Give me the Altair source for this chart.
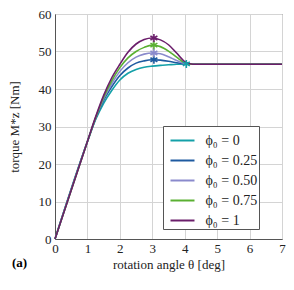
import altair as alt
import pandas as pd

theta = [0, 1, 1.25, 1.5, 1.75, 2, 2.25, 2.5, 2.75, 3, 3.25, 3.5, 3.75, 4, 4.25, 4.5, 7]
m_0   = [0, 26, 31.8, 36.2, 39.6, 42.4, 44.2, 45.2, 45.8, 46.1, 46.3, 46.45, 46.6, 46.7, 46.6, 46.6, 46.6]
m_25  = [0, 26, 32.0, 37.0, 40.6, 43.6, 45.6, 46.9, 47.5, 47.8, 47.7, 47.4, 47.0, 46.7, 46.6, 46.6, 46.6]
m_50  = [0, 26, 32.2, 37.4, 41.4, 44.7, 47.0, 48.5, 49.3, 49.6, 49.4, 48.6, 47.6, 46.8, 46.6, 46.6, 46.6]
m_75  = [0, 26, 32.3, 37.8, 42.2, 45.7, 48.3, 50.0, 51.1, 51.7, 51.3, 50.1, 48.5, 47.0, 46.6, 46.6, 46.6]
m_100 = [0, 26, 32.5, 38.3, 43.0, 46.6, 49.8, 52.0, 53.2, 53.6, 53.1, 51.8, 49.6, 47.3, 46.6, 46.6, 46.6]

labels = ["ϕ₀ = 0", "ϕ₀ = 0.25", "ϕ₀ = 0.50", "ϕ₀ = 0.75", "ϕ₀ = 1"]
colors = ["#14a0a8", "#1e5aa0", "#8a8acc", "#5ab032", "#6b1e6b"]
series = [m_0, m_25, m_50, m_75, m_100]

peak_x = [4.05, 3.05, 3.05, 3.05, 3.05]
peak_y = [46.7, 47.8, 49.6, 51.7, 53.6]

x_ticks = list(range(0, 8))
y_ticks = list(range(0, 61, 10))

rows = []
for i, (lab, vals) in enumerate(zip(labels, series)):
    for t, v in zip(theta, vals):
        rows.append({"theta": t, "M": v, "phi": lab, "ord": i, "peak": False})
for i, lab in enumerate(labels):
    rows.append({"theta": peak_x[i], "M": peak_y[i], "phi": lab, "ord": i, "peak": True})
df = pd.DataFrame(rows)

FONT = "Liberation Serif"
color_scale = alt.Scale(domain=labels, range=colors)

base = alt.Chart(df).encode(
    x=alt.X("theta:Q", scale=alt.Scale(domain=[0, 7], nice=False),
            axis=alt.Axis(title="rotation angle θ [deg]", values=x_ticks, grid=True,
                          labelOverlap=False, labelFlush=False, titlePadding=3,
                          labelPadding=3)),
    y=alt.Y("M:Q", scale=alt.Scale(domain=[0, 60], nice=False),
            axis=alt.Axis(title="torque M*z [Nm]", values=y_ticks, grid=True,
                          labelOverlap=False, labelFlush=False, titlePadding=17)),
    color=alt.Color("phi:N", scale=color_scale, sort=labels, title=None,
                    legend=alt.Legend(symbolType="stroke")),
)

lines = base.transform_filter("!datum.peak").mark_line(
    strokeWidth=1.6, interpolate="monotone").encode(order=alt.Order("theta:Q"))

star_path = "M0,-1L0,1M-0.87,-0.5L0.87,0.5M-0.87,0.5L0.87,-0.5"
stars = base.transform_filter("datum.peak").mark_point(
    shape=star_path, filled=False, size=64, strokeWidth=1.6, opacity=1)

lab_df = pd.DataFrame({"t": ["(a)"]})
tag = alt.Chart(lab_df).mark_text(font=FONT, fontSize=13, fontWeight="bold", align="left",
                                  baseline="middle", color="black").encode(
    x=alt.value(-43), y=alt.value(249), text="t:N")

chart = alt.layer(lines, stars, tag).properties(
    width=227, height=225,
    autosize=alt.AutoSizeParams(type="none"),
    padding={"left": 47, "top": 6, "right": 4, "bottom": 36},
).configure_view(stroke="#555", strokeWidth=1).configure_axis(
    labelFont=FONT, titleFont=FONT, labelFontSize=13, titleFontSize=13,
    titleFontWeight="normal", labelColor="#222", titleColor="#222",
    grid=True, labelOverlap=False,
    gridColor="#d4d4d4", gridWidth=1, gridOpacity=1, domainColor="#555",
    ticks=False, labelPadding=4,
).configure_legend(
    orient="none", legendX=108, legendY=112, strokeColor="#555", fillColor="white",
    padding=1.5, labelFont=FONT, labelFontSize=14, labelColor="#222",
    symbolSize=576, symbolStrokeWidth=2, rowPadding=-4.5, cornerRadius=0,
    symbolOffset=5, labelOffset=10,
)

chart.save("out.html", embed_options={"renderer": "svg", "actions": False})
